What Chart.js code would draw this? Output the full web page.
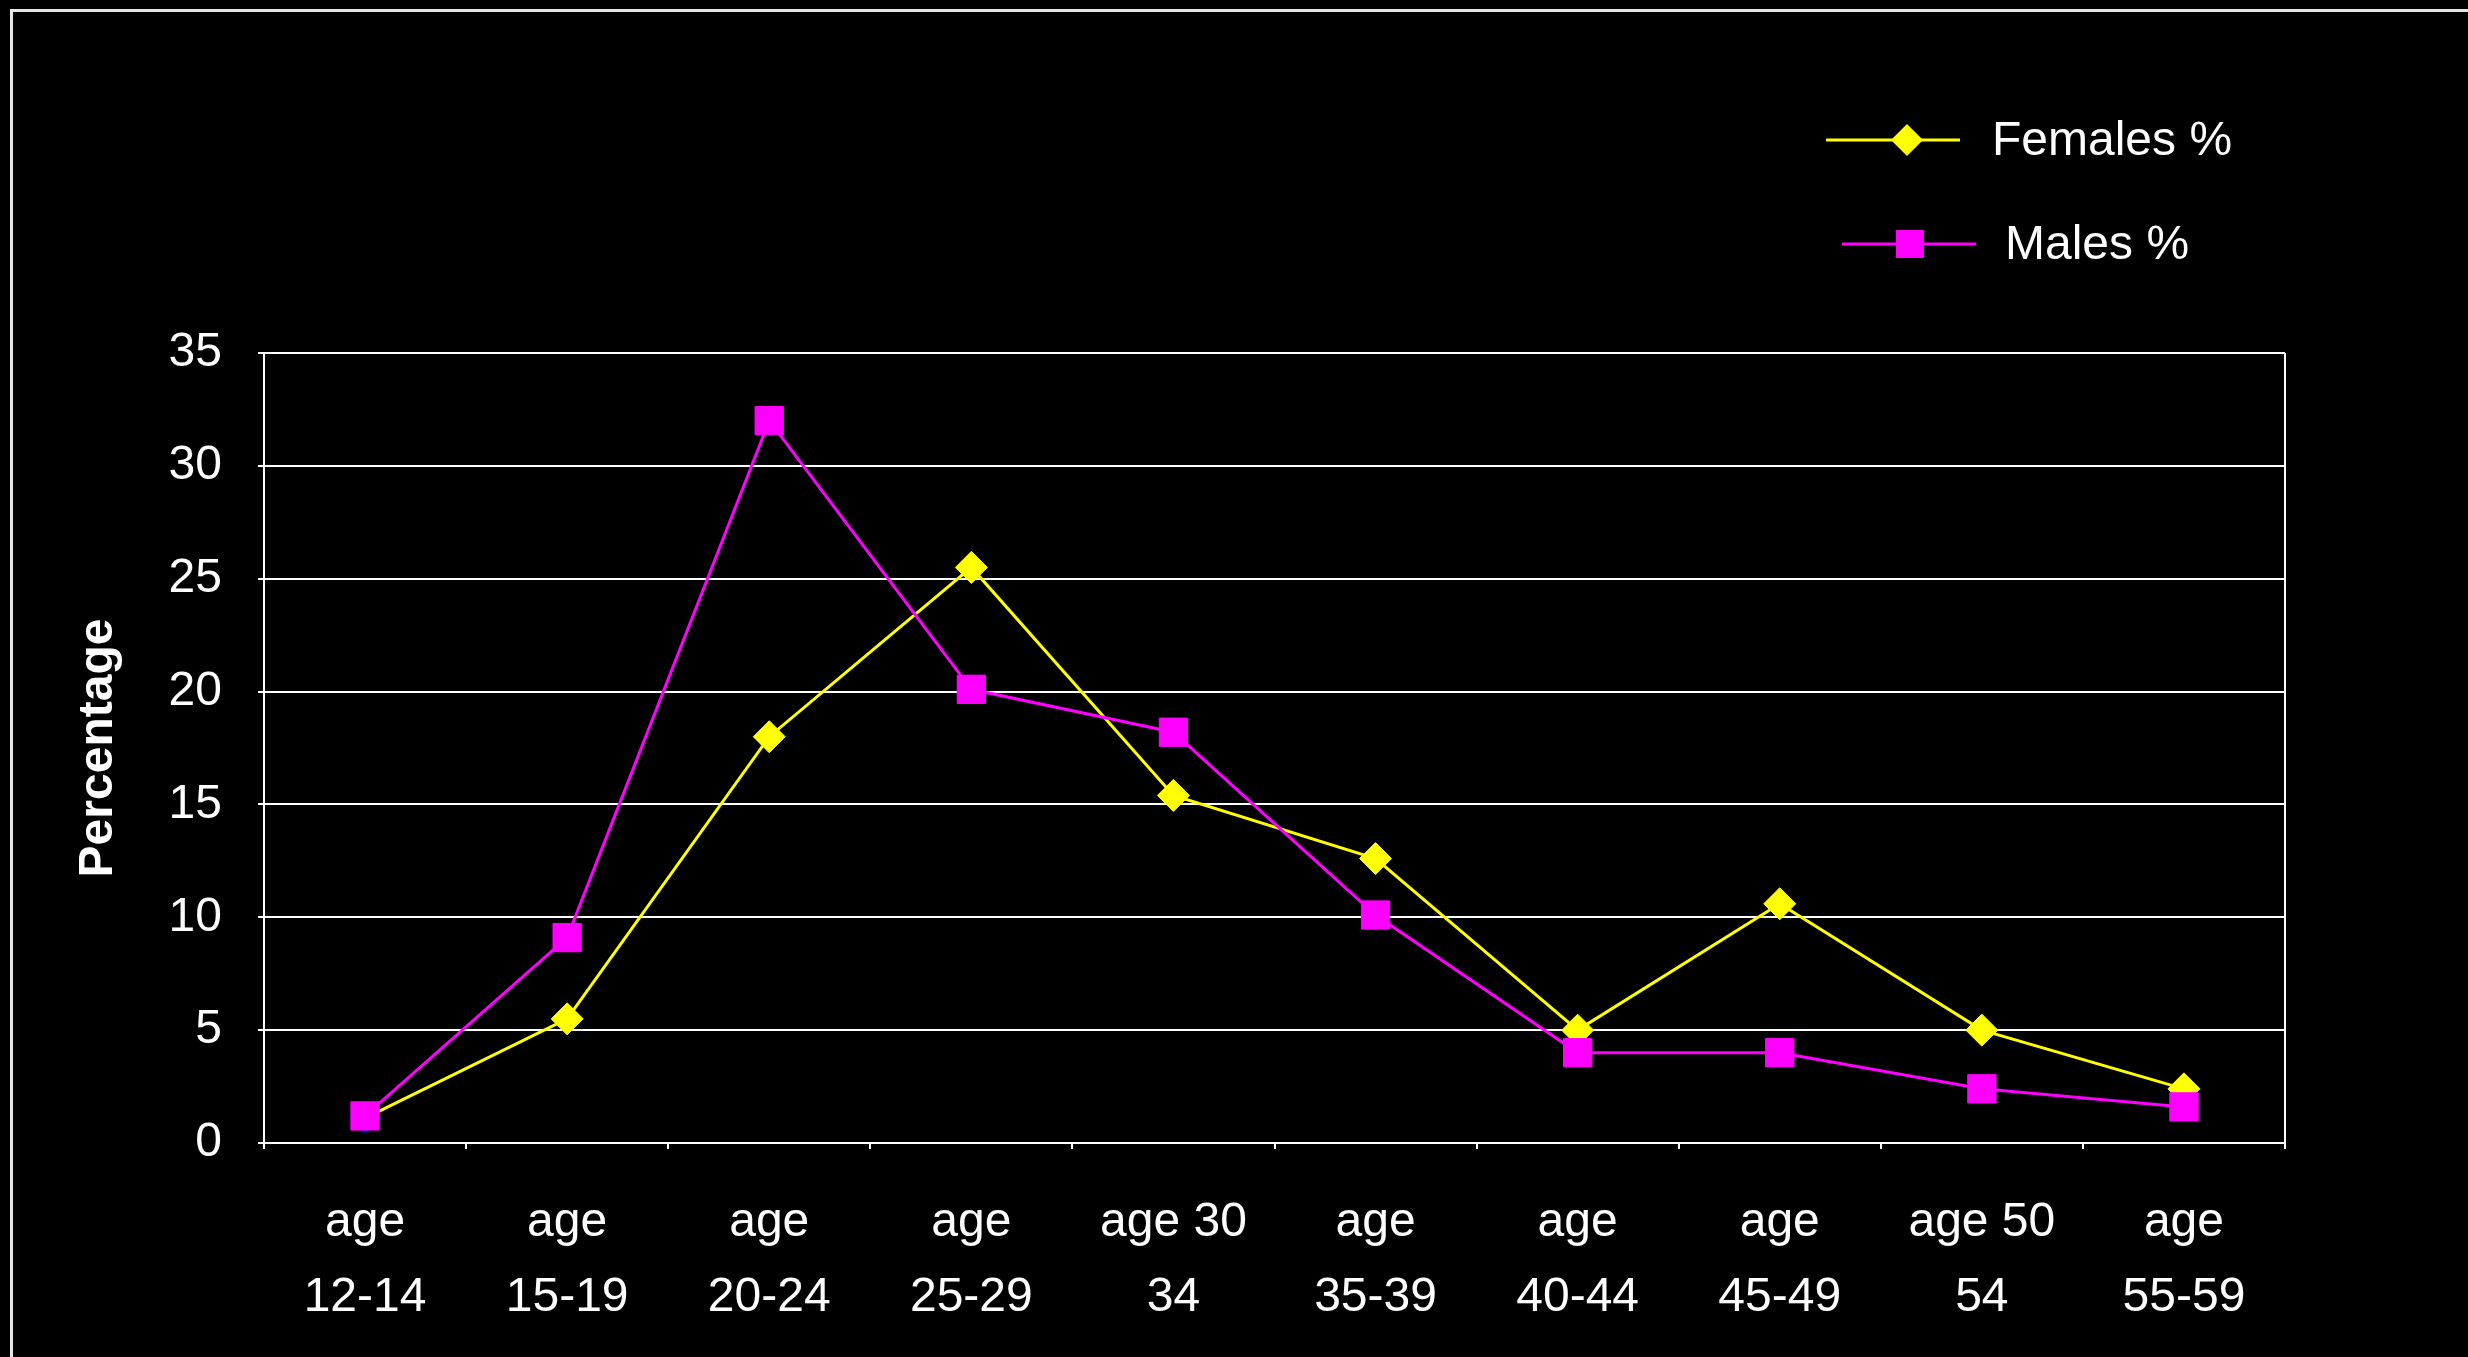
<!DOCTYPE html>
<html>
<head>
<meta charset="utf-8">
<script src="https://cdn.jsdelivr.net/npm/chart.js@4.4.1/dist/chart.umd.min.js"></script>
<style>
  html, body { margin: 0; padding: 0; background: #000; }
  canvas { display: block; }
</style>
</head>
<body>
<canvas id="chart" width="2468" height="1357"></canvas>
<script>
// age groups, two-line labels as in the original slide
const ageGroups = [
    ['age', '12-14'], ['age', '15-19'], ['age', '20-24'], ['age', '25-29'], ['age 30', '34'],
    ['age', '35-39'], ['age', '40-44'], ['age', '45-49'], ['age 50', '54'], ['age', '55-59']
];
const femalesPct = [1.1, 5.5, 18.0, 25.5, 15.4, 12.6, 5.0, 10.6, 5.0, 2.4];
const malesPct = [1.2, 9.1, 32.0, 20.1, 18.2, 10.1, 4.0, 4.0, 2.4, 1.6];
const yTicks = [0, 5, 10, 15, 20, 25, 30, 35];
const seriesNames = ['Females %', 'Males %'];

const FONT = '"Liberation Sans", Arial, sans-serif';
const YELLOW = '#ffff00';
const MAGENTA = '#ff00ff';

// first female marker was left in Excel's default navy
const femaleColors = femalesPct.map((v, i) => i === 0 ? '#000080' : YELLOW);

// black background, slide frame and plot frame
const framePlugin = {
    id: 'frame',
    beforeDraw(chart) {
        const ctx = chart.ctx;
        ctx.save();
        ctx.fillStyle = '#000';
        ctx.fillRect(0, 0, chart.width, chart.height);
        ctx.strokeStyle = '#e6e6e6';
        ctx.lineWidth = 3;
        ctx.strokeRect(11.5, 10.5, chart.width + 20, chart.height + 20);
        ctx.restore();
    },
    afterDatasetsDraw(chart) {
        const a = chart.chartArea;
        const ctx = chart.ctx;
        ctx.save();
        ctx.strokeStyle = '#ffffff';
        ctx.lineWidth = 2;
        ctx.beginPath();
        ctx.moveTo(a.right, a.top);
        ctx.lineTo(a.right, a.bottom);
        ctx.stroke();
        ctx.restore();
    }
};

// legend: line with the marker in the middle, like Excel
const legendPlugin = {
    id: 'slideLegend',
    afterDraw(chart) {
        const ctx = chart.ctx;
        const rows = [
            { x0: 1826, x1: 1960, mx: 1907, y: 140, tx: 1992, color: YELLOW, shape: 'diamond' },
            { x0: 1842, x1: 1976, mx: 1910, y: 244, tx: 2005, color: MAGENTA, shape: 'square' }
        ];
        ctx.save();
        rows.forEach((r, i) => {
            ctx.strokeStyle = r.color;
            ctx.fillStyle = r.color;
            ctx.lineWidth = 3;
            ctx.beginPath();
            ctx.moveTo(r.x0, r.y);
            ctx.lineTo(r.x1, r.y);
            ctx.stroke();
            ctx.beginPath();
            if (r.shape === 'diamond') {
                ctx.moveTo(r.mx - 16, r.y);
                ctx.lineTo(r.mx, r.y - 16);
                ctx.lineTo(r.mx + 16, r.y);
                ctx.lineTo(r.mx, r.y + 16);
                ctx.closePath();
            } else {
                ctx.rect(r.mx - 14, r.y - 14, 28, 28);
            }
            ctx.fill();
            ctx.fillStyle = '#ffffff';
            ctx.font = '48px ' + FONT;
            ctx.textAlign = 'left';
            ctx.textBaseline = 'middle';
            ctx.fillText(seriesNames[i], r.tx, r.y + 2);
        });
        ctx.restore();
    }
};

const chart = new Chart(document.getElementById('chart'), {
    type: 'line',
    data: {
        labels: ageGroups,
        datasets: [
            {
                label: seriesNames[0],
                data: femalesPct,
                borderColor: YELLOW,
                borderWidth: 3,
                pointStyle: 'rectRot',
                pointRadius: 16,
                pointBackgroundColor: femaleColors,
                pointBorderColor: femaleColors,
                pointBorderWidth: 1,
                tension: 0,
                order: 1
            },
            {
                label: seriesNames[1],
                data: malesPct,
                borderColor: MAGENTA,
                borderWidth: 3,
                pointStyle: 'rect',
                pointRadius: 20,
                pointBackgroundColor: MAGENTA,
                pointBorderColor: MAGENTA,
                pointBorderWidth: 1,
                tension: 0,
                order: 0
            }
        ]
    },
    options: {
        responsive: false,
        animation: false,
        layout: { padding: { left: 0, top: 353, right: 183, bottom: 0 } },
        plugins: {
            legend: { display: false },
            title: { display: false },
            tooltip: { enabled: false }
        },
        scales: {
            x: {
                offset: true,
                grid: {
                    offset: true,
                    drawOnChartArea: false,
                    color: '#ffffff',
                    lineWidth: 2,
                    tickLength: 6
                },
                border: { color: '#ffffff', width: 2 },
                ticks: {
                    color: '#ffffff',
                    font: { family: FONT, size: 48, lineHeight: 1.5625 },
                    padding: 36,
                    maxRotation: 0,
                    autoSkip: false
                },
                afterFit(scale) { scale.height = 214; }
            },
            y: {
                min: 0,
                max: 35,
                afterBuildTicks(scale) {
                    scale.ticks = yTicks.map(v => ({ value: v }));
                },
                grid: { color: '#ffffff', lineWidth: 2, tickLength: 6 },
                border: { color: '#ffffff', width: 2 },
                ticks: {
                    color: '#ffffff',
                    font: { family: FONT, size: 48 },
                    padding: 36
                },
                title: {
                    display: true,
                    text: 'Percentage',
                    color: '#ffffff',
                    font: { family: FONT, size: 48, weight: 'bold' },
                    padding: { top: 70, bottom: 0 }
                },
                afterFit(scale) { scale.width = 264; }
            }
        }
    },
    plugins: [framePlugin, legendPlugin]
});
</script>
</body>
</html>
